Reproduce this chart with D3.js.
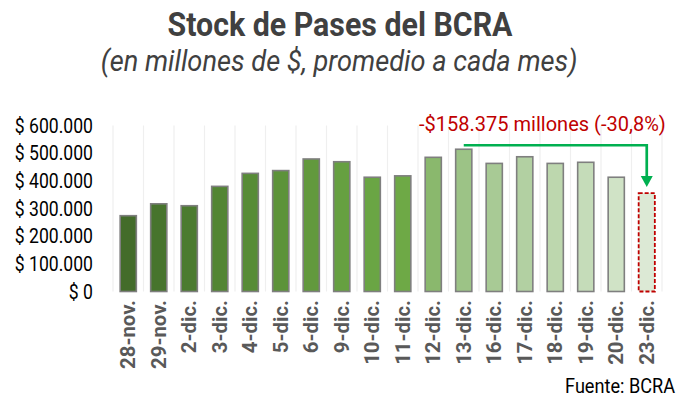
<!DOCTYPE html>
<html><head><meta charset="utf-8">
<script src="https://cdn.jsdelivr.net/npm/d3@7"></script>
<style>
html,body{margin:0;padding:0;background:#fff;}
svg{display:block;font-family:Roboto, "Noto Sans", sans-serif;}
</style></head>
<body>
<svg id="c" width="680" height="400"></svg>
<script>
const categories = ["28-nov.","29-nov.","2-dic.","3-dic.","4-dic.","5-dic.","6-dic.","9-dic.","10-dic.","11-dic.","12-dic.","13-dic.","16-dic.","17-dic.","18-dic.","19-dic.","20-dic.","23-dic."];
const values = [274000,317000,310000,380000,427000,437000,479000,469000,413000,418000,485000,514205,463000,487000,463000,467000,413000,355830];
const yTicks = [0,100000,200000,300000,400000,500000,600000];
const palette = ["#436c2a","#47742d","#4b7b2f","#528533","#578c36","#5c9339","#62993d","#66a041","#6aa544","#6ea946","#8ab86d","#9cc386","#a8ca95","#b2d0a2","#bdd7ae","#c5dcb9","#d0e3c6","#dce9d5"];
const title = "Stock de Pases del BCRA";
const subtitle = "(en millones de $, promedio a cada mes)";
const annotation = "-$158.375 millones (-30,8%)";
const source = "Fuente: BCRA";
const fromCat = "13-dic.", toCat = "23-dic.";

const svg = d3.select("#c");
const x = d3.scaleBand().domain(categories).range([113, 662]).paddingInner(0.47).paddingOuter(0.235);
const xb = d3.scaleBand().domain(categories).range([113, 662]);
const y = d3.scaleLinear().domain([0, 600000]).range([291.5, 125.5]);

function fit(sel, target){
  sel.each(function(){
    const n = this, w = n.getComputedTextLength();
    const k = target / w;
    const ax = +n.getAttribute("x") || 0;
    n.setAttribute("transform", `translate(${ax},0) scale(${k},1) translate(${-ax},0)`);
  });
}
function condense(sel, k){
  sel.each(function(){
    const ax = +this.getAttribute("x") || 0;
    this.setAttribute("transform", `translate(${ax},0) scale(${k},1) translate(${-ax},0)`);
  });
}

// vertical gridlines at band boundaries
const bounds = categories.map(c => xb(c)).concat([xb.range()[1]]);
svg.append("g").selectAll("line").data(bounds).join("line")
  .attr("x1", d => d).attr("x2", d => d)
  .attr("y1", y(600000)).attr("y2", y(0))
  .attr("stroke", "#efefef").attr("stroke-width", 1.2);

// bars
svg.append("g").selectAll("rect").data(categories).join("rect")
  .attr("x", c => x(c)).attr("width", x.bandwidth())
  .attr("y", (c,i) => y(values[i])).attr("height", (c,i) => y(0) - y(values[i]))
  .attr("fill", (c,i) => palette[i])
  .attr("stroke", (c,i) => i === categories.length-1 ? "#c00000" : "#7f7f7f")
  .attr("stroke-width", (c,i) => i === categories.length-1 ? 1.8 : 1.6)
  .attr("stroke-dasharray", (c,i) => i === categories.length-1 ? "4,2" : null);

// y axis labels
const yl = svg.append("g").selectAll("text").data(yTicks).join("text")
  .attr("x", 93).attr("y", d => y(d)).attr("dy", "0.36em")
  .attr("text-anchor", "end").attr("font-size", 20).attr("fill", "#000")
  .text(d => "$ " + d3.format(",")(d).replace(/,/g, "."));
condense(yl, 0.88);

// x axis labels (rotated)
const xl = svg.append("g").selectAll("text").data(categories).join("text")
  .attr("text-anchor", "end").attr("font-size", 20).attr("font-weight", "bold").attr("fill", "#595959")
  .text(c => c);
const k0 = 69 / xl.node().getComputedTextLength();
xl.attr("transform", c => `translate(${xb(c) + xb.bandwidth()/2 + 7},300) rotate(-90) scale(${k0},1)`);

// arrow
const xa = xb(fromCat) + xb.bandwidth()/2, xe = xb(toCat) + xb.bandwidth()/2;
const ya = y(values[categories.indexOf(fromCat)]) - 4;
const ye = y(values[categories.indexOf(toCat)]) - 6;
svg.append("path").attr("d", `M${xa},${ya}H${xe}V${ye-10}`)
  .attr("fill", "none").attr("stroke", "#00b050").attr("stroke-width", 2.7);
svg.append("path").attr("d", `M${xe-6},${ye-11}L${xe+6},${ye-11}L${xe},${ye}Z`).attr("fill", "#00b050");

// annotation
const an = svg.append("text").attr("x", 419).attr("y", 131.5).attr("font-size", 20.5).attr("fill", "#c00000").text(annotation);
fit(an, 247);

// titles
const t = svg.append("text").attr("x", 340).attr("y", 36).attr("text-anchor", "middle")
  .attr("font-size", 34).attr("font-weight", "bold").attr("fill", "#404040").text(title);
fit(t, 345);
const st = svg.append("text").attr("x", 339).attr("y", 71).attr("text-anchor", "middle")
  .attr("font-size", 29).attr("font-style", "italic").attr("fill", "#404040").text(subtitle);
fit(st, 477);
const src = svg.append("text").attr("x", 675).attr("y", 393).attr("text-anchor", "end")
  .attr("font-size", 21).attr("fill", "#000").text(source);
fit(src, 110);
</script>
</body></html>
